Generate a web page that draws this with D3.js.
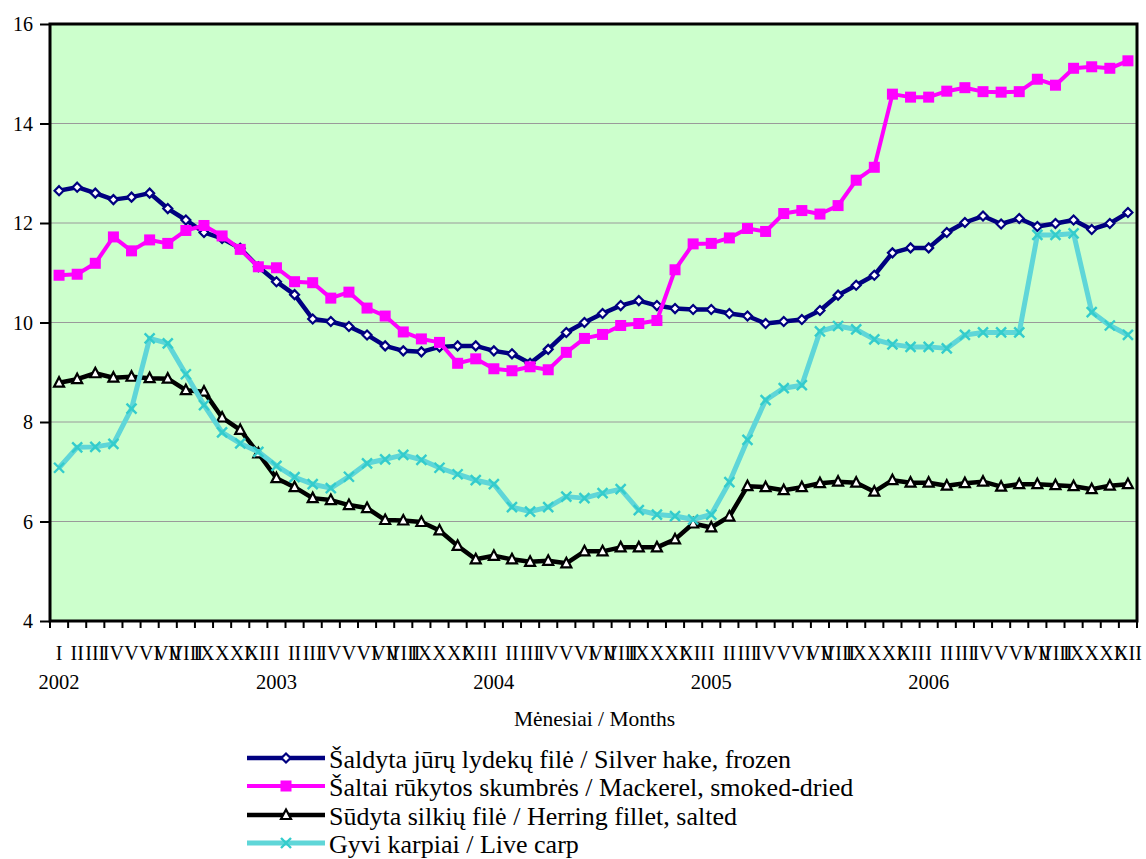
<!DOCTYPE html>
<html>
<head>
<meta charset="utf-8">
<script src="https://cdn.jsdelivr.net/npm/d3@7"></script>
<style>
  html, body { margin: 0; padding: 0; background: #ffffff; }
  svg { display: block; }
</style>
</head>
<body>
<svg id="chart" width="1146" height="859" font-family="Liberation Serif, Times New Roman, serif"></svg>
<script>
// Monthly prices, 2002–2006
const years = ["2002", "2003", "2004", "2005", "2006"];
const monthNames = ["I", "II", "III", "IV", "V", "VI", "VII", "VIII", "IX", "X", "XI", "XII"];
const yTicks = [4, 6, 8, 10, 12, 14, 16];

const silverHake = [
  12.65, 12.72, 12.60, 12.47, 12.52, 12.60, 12.29, 12.06, 11.81, 11.69, 11.49, 11.12,
  10.82, 10.56, 10.07, 10.02, 9.92, 9.75, 9.53, 9.43, 9.41, 9.51, 9.53, 9.53,
  9.43, 9.37, 9.18, 9.46, 9.80, 10.00, 10.18, 10.34, 10.44, 10.34, 10.28, 10.26,
  10.26, 10.18, 10.13, 9.98, 10.02, 10.06, 10.24, 10.55, 10.75, 10.95, 11.40, 11.50,
  11.50, 11.81, 12.01, 12.14, 11.98, 12.09, 11.93, 11.99, 12.06, 11.87, 11.99, 12.21
];
const mackerel = [
  10.95, 10.97, 11.19, 11.72, 11.44, 11.66, 11.59, 11.85, 11.95, 11.74, 11.47, 11.12,
  11.10, 10.82, 10.80, 10.49, 10.61, 10.29, 10.13, 9.81, 9.67, 9.60, 9.18, 9.27,
  9.07, 9.03, 9.11, 9.05, 9.40, 9.68, 9.76, 9.94, 9.98, 10.04, 11.06, 11.58,
  11.59, 11.70, 11.89, 11.83, 12.19, 12.25, 12.18, 12.35, 12.86, 13.12, 14.59, 14.53,
  14.53, 14.65, 14.72, 14.64, 14.63, 14.64, 14.89, 14.77, 15.11, 15.14, 15.11, 15.26
];
const herring = [
  8.79, 8.86, 8.98, 8.89, 8.91, 8.88, 8.87, 8.64, 8.61, 8.09, 7.84, 7.37,
  6.87, 6.69, 6.47, 6.43, 6.33, 6.27, 6.03, 6.02, 5.99, 5.82, 5.51, 5.24,
  5.31, 5.24, 5.19, 5.21, 5.16, 5.40, 5.40, 5.48, 5.48, 5.48, 5.64, 5.96,
  5.88, 6.10, 6.71, 6.69, 6.63, 6.69, 6.77, 6.80, 6.78, 6.60, 6.83, 6.78,
  6.78, 6.72, 6.77, 6.80, 6.70, 6.75, 6.75, 6.73, 6.71, 6.65, 6.72, 6.75
];
const liveCarp = [
  7.08, 7.49, 7.50, 7.56, 8.27, 9.68, 9.58, 8.96, 8.34, 7.79, 7.57, 7.40,
  7.12, 6.89, 6.75, 6.67, 6.90, 7.17, 7.25, 7.34, 7.24, 7.08, 6.95, 6.83,
  6.75, 6.29, 6.20, 6.29, 6.50, 6.47, 6.57, 6.65, 6.23, 6.14, 6.11, 6.04,
  6.14, 6.79, 7.64, 8.44, 8.68, 8.74, 9.82, 9.93, 9.86, 9.66, 9.56, 9.51,
  9.51, 9.48, 9.75, 9.80, 9.80, 9.80, 11.76, 11.76, 11.79, 10.21, 9.94, 9.75
];

const seriesNames = [
  "Šaldyta jūrų lydekų filė / Silver hake, frozen",
  "Šaltai rūkytos skumbrės / Mackerel, smoked-dried",
  "Sūdyta silkių filė / Herring fillet, salted",
  "Gyvi karpiai / Live carp"
];
const xAxisTitle = "Mėnesiai / Months";

const FONT = "Liberation Serif, Times New Roman, serif";

// Month keys: one slot per month across all years
const months = [];
years.forEach(y => monthNames.forEach(m => months.push({ key: y + "-" + m, year: y, month: m })));

const series = [
  { name: seriesNames[0], values: silverHake, color: "#000080", width: 4.5, marker: "diamond" },
  { name: seriesNames[1], values: mackerel,   color: "#FF00FF", width: 4,   marker: "square" },
  { name: seriesNames[2], values: herring,    color: "#000000", width: 4.5, marker: "triangle" },
  { name: seriesNames[3], values: liveCarp,   color: "#5FD6D8", width: 5,   marker: "cross" }
];

const svg = d3.select("#chart");
const plot = { left: 50, right: 1137, top: 24, bottom: 621 };

const x = d3.scaleBand()
  .domain(months.map(d => d.key))
  .range([plot.left, plot.right])
  .paddingInner(0).paddingOuter(0);
const xc = k => x(k) + x.bandwidth() / 2;

const y = d3.scaleLinear().domain([4, 16]).range([plot.bottom, plot.top]);

// text helper: font set as presentation attributes
function styleText(sel, size) {
  return sel.attr("font-family", FONT).attr("font-size", size).attr("fill", "#000");
}

// plot background
svg.append("rect")
  .attr("x", plot.left).attr("y", plot.top)
  .attr("width", plot.right - plot.left).attr("height", plot.bottom - plot.top)
  .attr("fill", "#CCFFCC");

// horizontal gridlines
svg.append("g")
  .selectAll("line")
  .data(yTicks.filter(v => v > 4 && v < 16))
  .join("line")
  .attr("x1", plot.left).attr("x2", plot.right)
  .attr("y1", d => y(d)).attr("y2", d => y(d))
  .attr("stroke", "#9a9a9a").attr("stroke-width", 1);

// y axis
const yAxis = svg.append("g")
  .attr("transform", `translate(${plot.left},0)`)
  .call(d3.axisLeft(y).tickValues(yTicks).tickSize(10).tickPadding(7).tickFormat(d3.format("d")));
yAxis.attr("font-family", FONT).attr("font-size", 20);
yAxis.select(".domain").remove();
yAxis.selectAll(".tick line").attr("stroke", "#000").attr("stroke-width", 2);
styleText(yAxis.selectAll(".tick text"), 20).attr("dy", "0.33em");

// x axis: ticks at month boundaries
const boundaries = months.map(d => x(d.key)).concat([plot.right]);
svg.append("g")
  .selectAll("line")
  .data(boundaries)
  .join("line")
  .attr("x1", d => d).attr("x2", d => d)
  .attr("y1", plot.bottom).attr("y2", plot.bottom + 7)
  .attr("stroke", "#000").attr("stroke-width", 2);

// month labels
styleText(svg.append("g")
  .selectAll("text")
  .data(months)
  .join("text")
  .attr("x", d => xc(d.key))
  .attr("y", 660)
  .attr("text-anchor", "middle"), 20)
  .text(d => d.month);

// year labels under the first month of each year
styleText(svg.append("g")
  .selectAll("text")
  .data(years)
  .join("text")
  .attr("x", d => xc(d + "-I"))
  .attr("y", 689)
  .attr("text-anchor", "middle"), 20.5)
  .text(d => d);

// axis title
styleText(svg.append("text")
  .attr("x", (plot.left + plot.right) / 2 + 1)
  .attr("y", 726)
  .attr("text-anchor", "middle"), 21.5)
  .text(xAxisTitle);

// plot frame
svg.append("path")
  .attr("d", `M${plot.left},${plot.bottom}V${plot.top}H${plot.right}V${plot.bottom}Z`)
  .attr("fill", "none").attr("stroke", "#000").attr("stroke-width", 3);

// markers
function drawMarker(g, type, color) {
  if (type === "diamond") {
    g.append("path").attr("d", "M0,-4.5L4.5,0L0,4.5L-4.5,0Z")
      .attr("fill", "#fff").attr("stroke", color).attr("stroke-width", 2.2);
  } else if (type === "square") {
    g.append("rect").attr("x", -5.5).attr("y", -5.5).attr("width", 11).attr("height", 11)
      .attr("fill", color);
  } else if (type === "triangle") {
    g.append("path").attr("d", "M0,-5.5L5,4L-5,4Z")
      .attr("fill", "#fff").attr("stroke", color).attr("stroke-width", 2.2);
  } else if (type === "cross") {
    g.append("path").attr("d", "M-5,-5L5,5M-5,5L5,-5")
      .attr("fill", "none").attr("stroke", "#33CCCC").attr("stroke-width", 2.4);
  }
}

const line = d3.line().x((d, i) => xc(months[i].key)).y(d => y(d));

series.forEach(s => {
  const g = svg.append("g");
  g.append("path")
    .datum(s.values)
    .attr("d", line)
    .attr("fill", "none")
    .attr("stroke", s.color)
    .attr("stroke-width", s.width)
    .attr("stroke-linejoin", "round");
  g.selectAll("g.mk")
    .data(s.values)
    .join("g")
    .attr("class", "mk")
    .attr("transform", (d, i) => `translate(${xc(months[i].key)},${y(d)})`)
    .each(function () { drawMarker(d3.select(this), s.marker, s.color); });
});

// legend
const legend = svg.append("g");
const legendRows = [758, 786, 815, 843];
series.forEach((s, i) => {
  const row = legend.append("g").attr("transform", `translate(0,${legendRows[i]})`);
  row.append("line").attr("x1", 247).attr("x2", 325).attr("y1", 0).attr("y2", 0)
    .attr("stroke", s.color).attr("stroke-width", s.width);
  const mk = row.append("g").attr("transform", "translate(286,0)");
  drawMarker(mk, s.marker, s.color);
  styleText(row.append("text").attr("x", 329).attr("y", 9.5), 26)
    .text(s.name);
});
</script>
</body>
</html>
